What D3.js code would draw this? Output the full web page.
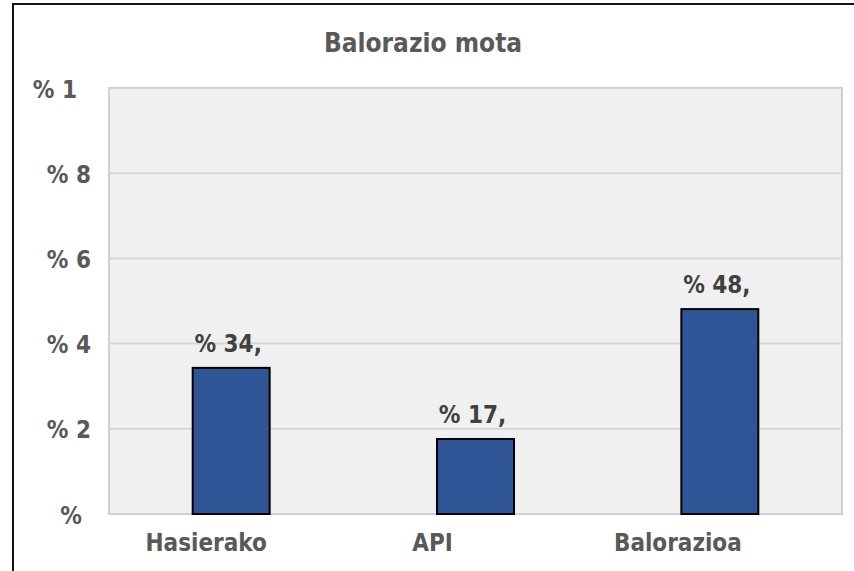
<!DOCTYPE html>
<html>
<head>
<meta charset="utf-8">
<script src="https://cdn.jsdelivr.net/npm/d3@7"></script>
<style>
  body { margin: 0; background: #fff; }
  text { font-family: "DejaVu Sans Condensed", "DejaVu Sans", sans-serif; font-stretch: condensed; font-weight: bold; }
</style>
</head>
<body>
<script>
// chart values
var categories = ["Hasierako", "API", "Balorazioa"];
var values = [0.343, 0.176, 0.481];
var valueLabels = ["% 34,", "% 17,", "% 48,"];
var tickValues = [0, 0.2, 0.4, 0.6, 0.8, 1];
var tickLabels = ["%", "% 2", "% 4", "% 6", "% 8", "% 1"];
var title = "Balorazio mota";

var window_w = 854, window_h = 571;
var margin = {left: 109, top: 88, right: 12, bottom: 57};
var frame_w = window_w - margin.left - margin.right;
var frame_h = window_h - margin.top - margin.bottom;

var svg = d3.select("body").append("svg")
    .attr("width", window_w)
    .attr("height", window_h);

// outer frame (top + left only)
svg.append("path")
    .attr("d", "M13,571V4H854")
    .attr("fill", "none")
    .attr("stroke", "#111")
    .attr("stroke-width", 2);

svg.append("text")
    .attr("x", 423)
    .attr("y", 52)
    .attr("text-anchor", "middle")
    .attr("font-size", 26)
    .attr("fill", "#595959")
    .text(title);

var xScale = d3.scaleBand().domain(categories).range([0, frame_w])
    .paddingInner(0.685).paddingOuter(0.3425);
var yScale = d3.scaleLinear().domain([0, 1]).range([frame_h, 0]);

var g_main = svg.append("g").attr("transform", "translate(" + margin.left + "," + margin.top + ")");

g_main.append("rect")
    .attr("width", frame_w)
    .attr("height", frame_h)
    .attr("fill", "#f0f0f0")
    .attr("stroke", "#d0d0d0")
    .attr("stroke-width", 2);

// gridlines
g_main.selectAll(".grid").data(tickValues.slice(1, -1))
    .enter().append("line")
    .attr("class", "grid")
    .attr("x1", 0).attr("x2", frame_w)
    .attr("y1", d => yScale(d)).attr("y2", d => yScale(d))
    .attr("stroke", "#d6d6d6")
    .attr("stroke-width", 2);

// y labels (odd rtl rendering: nudges keep the original placement)
var yNudge = [-9, 0, 0, 0, 0, -14];
var yAxis = d3.axisLeft(yScale).tickValues(tickValues)
    .tickFormat((d, i) => tickLabels[i]).tickSize(0).tickPadding(18);
var ya = g_main.append("g").call(yAxis);
ya.select(".domain").remove();
ya.selectAll("text")
    .attr("font-size", 24)
    .attr("fill", "#595959")
    .attr("font-family", null)
    .attr("dy", "0.38em")
    .attr("dx", (d, i) => yNudge[i]);

// bars
g_main.selectAll(".bar").data(values)
    .enter().append("rect")
    .attr("class", "bar")
    .attr("x", (d, i) => xScale(categories[i]))
    .attr("y", d => yScale(d))
    .attr("width", xScale.bandwidth())
    .attr("height", d => frame_h - yScale(d))
    .attr("fill", "#2f5597")
    .attr("stroke", "#000")
    .attr("stroke-width", 2);

g_main.selectAll(".vlab").data(values)
    .enter().append("text")
    .attr("class", "vlab")
    .attr("x", (d, i) => xScale(categories[i]) + xScale.bandwidth() / 2 - 3)
    .attr("y", d => yScale(d) - 16)
    .attr("text-anchor", "middle")
    .attr("font-size", 24)
    .attr("fill", "#404040")
    .text((d, i) => valueLabels[i]);

// category labels
var xNudge = [-25, -43, -42];
var xAxis = d3.axisBottom(xScale).tickSize(0).tickPadding(20);
var xa = g_main.append("g").attr("transform", "translate(0," + frame_h + ")").call(xAxis);
xa.select(".domain").remove();
xa.selectAll("text")
    .attr("font-size", 24)
    .attr("fill", "#595959")
    .attr("font-family", null)
    .attr("dx", (d, i) => xNudge[i]);
</script>
</body>
</html>
